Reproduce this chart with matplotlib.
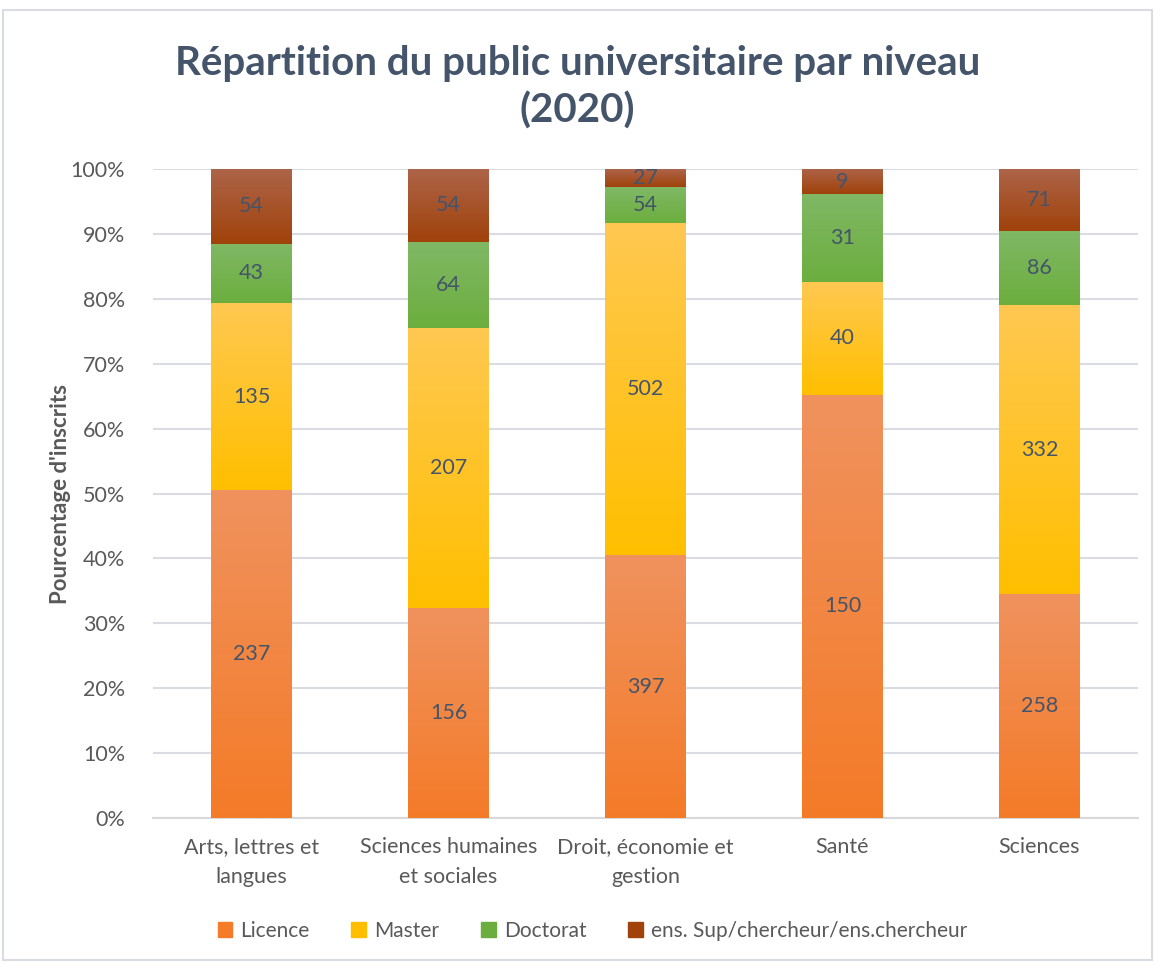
import numpy as np
import matplotlib
matplotlib.use("Agg")
import matplotlib.pyplot as plt
from matplotlib.colors import LinearSegmentedColormap
from matplotlib.patches import Rectangle

categories = ["Arts, lettres et\nlangues", "Sciences humaines\net sociales",
              "Droit, économie et\ngestion", "Santé", "Sciences"]
series_names = ["Licence", "Master", "Doctorat", "ens. Sup/chercheur/ens.chercheur"]
licence = [237, 156, 397, 150, 258]
master = [135, 207, 502, 40, 332]
doctorat = [43, 64, 54, 31, 86]
sup = [54, 54, 27, 9, 71]

# (top colour, bottom colour) for the gradient fills
colors = [("#F0925E", "#F47B28"),
          ("#FFC851", "#FFBF00"),
          ("#80B865", "#6CAE3E"),
          ("#AD6449", "#A0420A")]

plt.rcParams['font.family'] = ['Lato', 'DejaVu Sans']
text_col = "#595959"

data = np.array([licence, master, doctorat, sup], dtype=float)
pct = data / data.sum(axis=0) * 100

fig = plt.figure(figsize=(11.55, 9.65), dpi=100)
ax = fig.add_axes([153 / 1155, 1 - 818 / 965, 985 / 1155, 649 / 965])

# chart border
fig.patches.append(Rectangle((3 / 1155, 0.005), 1 - 6 / 1155, 1 - 10 / 965 - 0.005,
                             transform=fig.transFigure, fill=False,
                             edgecolor="#D9DDE3", linewidth=1.5))

x = np.arange(len(categories))
width = 0.41
grad = np.linspace(0, 1, 256).reshape(-1, 1)
bottom = np.zeros(len(categories))
for s in range(len(series_names)):
    cmap = LinearSegmentedColormap.from_list("g%d" % s, [colors[s][1], colors[s][0]])
    bars = ax.bar(x, pct[s], width, bottom=bottom, color=colors[s][1],
                  label=series_names[s], zorder=2)
    for i, b in enumerate(bars):
        x0, y0 = b.get_x(), b.get_y()
        h = b.get_height()
        im = ax.imshow(grad, cmap=cmap, aspect="auto", origin="lower",
                       extent=(x0, x0 + width, y0, y0 + h), zorder=3)
        im.set_clip_path(b)
        ax.text(x[i], y0 + h / 2, "%d" % data[s, i], ha="center", va="center",
                fontsize=15.5, color="#44546A", zorder=4)
    bottom += pct[s]

ax.set_xlim(-0.5, len(categories) - 0.5)
ax.set_ylim(0, 100)
ax.set_yticks(np.arange(0, 101, 10))
ax.set_yticklabels(["%d%%" % v for v in range(0, 101, 10)])
ax.set_xticks(x)
ax.set_xticklabels(categories, linespacing=1.6)
ax.tick_params(axis="both", length=0, labelsize=15.5, labelcolor=text_col)
ax.tick_params(axis="x", pad=14)
ax.tick_params(axis="y", pad=20)
ax.grid(axis="y", color="#D9DDE3", linewidth=1.5, zorder=0)
ax.set_axisbelow(True)
for sp in ["top", "right", "left"]:
    ax.spines[sp].set_visible(False)
ax.spines["bottom"].set_color("#D9D9D9")
ax.spines["bottom"].set_linewidth(1.5)

ax.set_ylabel("Pourcentage d'inscrits", fontsize=16, fontweight="bold",
              color=text_col, labelpad=0)
fig.text(0.5, 1 - 87 / 965, "Répartition du public universitaire par niveau\n(2020)",
         ha="center", va="center", fontsize=29, fontweight="bold",
         color="#44546A", linespacing=1.3)

handles = [Rectangle((0, 0), 1, 1, color=c[1]) for c in colors]
fig.legend(handles, series_names, loc="center", bbox_to_anchor=(0.513, 1 - 931 / 965),
           ncol=4, frameon=False, fontsize=15, labelcolor=text_col,
           handlelength=0.7, handleheight=0.7, handletextpad=0.4, columnspacing=2.0)

fig.savefig("out.png", dpi=100)
